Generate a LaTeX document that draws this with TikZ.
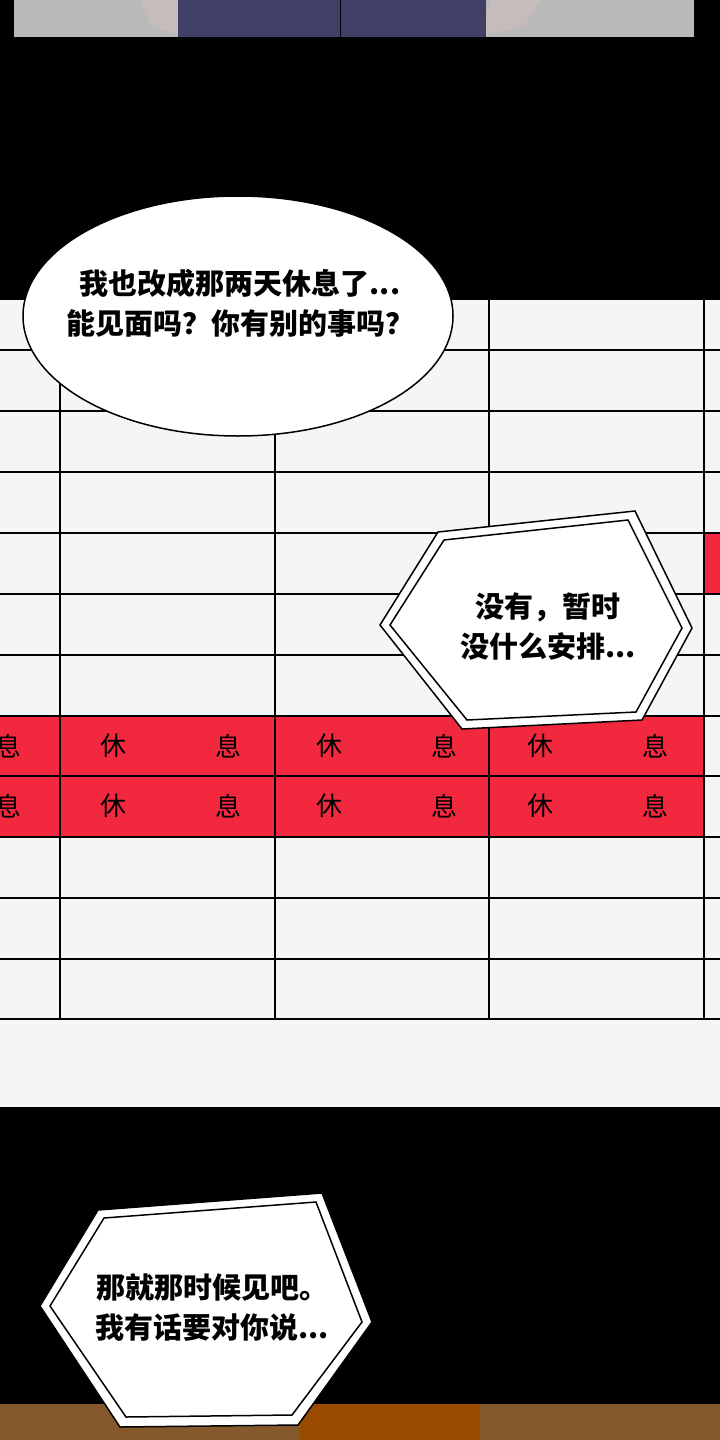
\documentclass[tikz,border=0pt]{standalone}
\usepackage{fontspec}
\newfontfamily\cjk{Noto Sans CJK SC}
\definecolor{cellred}{HTML}{F2283E}
\begin{document}
\begin{tikzpicture}[x=1pt,y=-1pt,
  grid/.style={black,line width=2pt},
  rtxt/.style={font=\cjk\fontsize{26}{26}\selectfont,text=black},
  btxt/.style={font=\cjk\bfseries\fontsize{29}{40}\selectfont,align=center}]
\fill[black] (0,0) rectangle (720,1440);
\useasboundingbox (0,0) rectangle (720,1440);
% top panel
\fill[gray!55] (14,0) rectangle (694,37);
\fill[pink!25!gray!60] (140,0) -- (180,0) -- (185,37) -- (150,25) -- cycle;
\fill[pink!25!gray!60] (490,0) -- (540,0) -- (525,25) -- (480,37) -- cycle;
\fill[blue!20!black!75] (178,0) rectangle (486,37);
\draw[black,line width=1pt] (340,0) -- (340,37);
% table panel
\fill[gray!8] (0,300) rectangle (720,1107);
\fill[cellred] (0,716) rectangle (704,837);
\fill[cellred] (704,533) rectangle (720,594);
\foreach \y in {350,411,472,533,594,655,716,776,837,898,959,1019}
  \draw[grid] (0,\y) -- (720,\y);
\foreach \x in {60,275,489,704}
  \draw[grid] (\x,300) -- (\x,1019);
\foreach \y in {746,806}{
  \node[rtxt] (s0\y) at (8,\y) {息};
  \foreach \x/\X in {113/228,329/444,540/655}{
    \node[rtxt] (a\x\y) at (\x,\y) {休};
    \node[rtxt] (b\X\y) at (\X,\y) {息};}}
% bottom panel
\fill[brown!70!black] (0,1404) rectangle (720,1440);
\fill[orange!60!black] (300,1404) rectangle (480,1440);
% bubble 1
\draw[black,line width=1.5pt,fill=white] (238,316) ellipse (215 and 120);
\node[btxt] (t1) at (240,303) {我也改成那两天休息了...\\能见面吗？你有别的事吗？};
% bubble 2
\draw[black,line width=1.5pt,fill=white] (380,625) -- (438,532) -- (635,511) -- (692,628) -- (642,720) -- (462,729) -- cycle;
\draw[black,line width=1.5pt] (390,625) -- (444,540) -- (628,520) -- (682,628) -- (636,712) -- (467,720) -- cycle;
\node[btxt] (t2) at (548,627) {没有，暂时\\没什么安排...};
% bubble 3
\draw[black,line width=1.5pt,fill=white] (40,1306) -- (98,1210) -- (322,1193) -- (372,1322) -- (298,1425) -- (120,1427) -- cycle;
\draw[black,line width=1.5pt] (50,1306) -- (104,1218) -- (316,1202) -- (362,1322) -- (292,1415) -- (126,1417) -- cycle;
\node[btxt] (t3) at (212,1307) {那就那时候见吧。\\我有话要对你说...};
\end{tikzpicture}
\end{document}
